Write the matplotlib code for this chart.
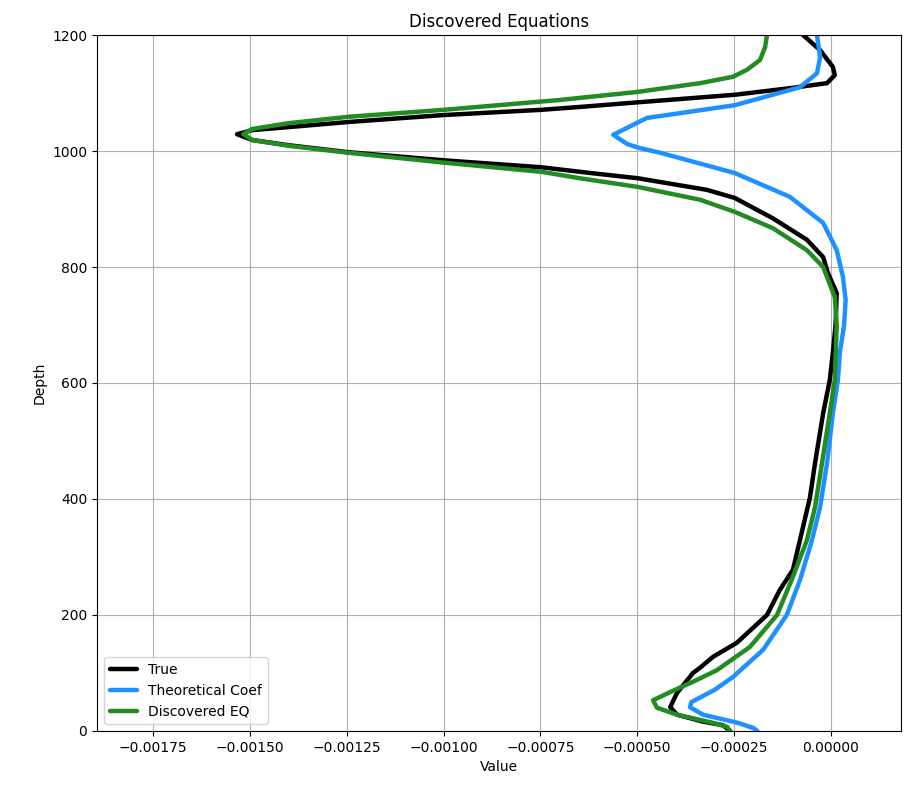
import matplotlib
matplotlib.use("Agg")
import matplotlib.pyplot as plt

# Depth profiles: depth (m) and coefficient value at that depth
true_depth = [0, 10, 16, 28, 41, 66, 100, 109, 128, 152, 200, 243, 278, 329, 403,
              462, 548, 605, 652, 700, 755, 790, 817, 847, 884, 919, 933, 953, 962,
              972, 984, 998, 1010, 1019, 1029, 1036, 1041, 1050, 1062, 1071, 1076,
              1084, 1097, 1109, 1117, 1131, 1145, 1174, 1200]
true_val = [-2.6e-4, -2.79e-4, -3.3e-4, -3.97e-4, -4.15e-4, -3.97e-4, -3.56e-4,
            -3.38e-4, -3.04e-4, -2.43e-4, -1.65e-4, -1.32e-4, -9.8e-5, -8.0e-5,
            -5.4e-5, -4.1e-5, -2.0e-5, -3e-6, 5e-6, 1.2e-5, 1.5e-5, -8e-6, -2.0e-5,
            -6.2e-5, -1.5e-4, -2.48e-4, -3.2e-4, -4.98e-4, -6.2e-4, -7.48e-4,
            -1.0e-3, -1.246e-3, -1.40e-3, -1.494e-3, -1.533e-3, -1.494e-3,
            -1.404e-3, -1.246e-3, -1.0e-3, -7.48e-4, -6.48e-4, -4.98e-4, -2.48e-4,
            -9.8e-5, -1.0e-5, 1.0e-5, 5e-6, -2.8e-5, -7.2e-5]

theo_depth = [0, 5, 14, 28, 41, 50, 71, 93, 140, 200, 260, 329, 386, 462, 548, 605,
              652, 700, 743, 783, 829, 876, 921, 962, 997, 1005, 1012, 1028, 1040,
              1057, 1079, 1110, 1134, 1162, 1200]
theo_val = [-1.9e-4, -2.0e-4, -2.4e-4, -3.3e-4, -3.64e-4, -3.6e-4, -3.0e-4,
            -2.53e-4, -1.75e-4, -1.14e-4, -8.0e-5, -4.9e-5, -2.8e-5, -1.0e-5, 5e-6,
            1.8e-5, 2.3e-5, 3.4e-5, 3.8e-5, 3.1e-5, 1.5e-5, -2.0e-5, -1.06e-4,
            -2.48e-4, -4.41e-4, -4.93e-4, -5.26e-4, -5.62e-4, -5.26e-4, -4.75e-4,
            -2.48e-4, -8.0e-5, -3.6e-5, -2.8e-5, -3.6e-5]

disc_depth = [0, 7, 14, 28, 40, 53, 67, 88, 105, 145, 200, 266, 329, 386, 462, 548,
              605, 700, 748, 800, 829, 867, 895, 916, 938, 953, 964, 980, 997, 1009,
              1019, 1029, 1038, 1048, 1059, 1071, 1088, 1102, 1117, 1128, 1140, 1157,
              1179, 1200]
disc_val = [-2.6e-4, -2.68e-4, -3.04e-4, -3.97e-4, -4.49e-4, -4.59e-4, -4.15e-4,
            -3.46e-4, -2.94e-4, -2.09e-4, -1.39e-4, -9.8e-5, -6.2e-5, -4.1e-5,
            -2.3e-5, -3e-6, 1e-5, 1.5e-5, 1.0e-5, -2.0e-5, -6.2e-5, -1.5e-4,
            -2.48e-4, -3.38e-4, -4.98e-4, -6.48e-4, -7.46e-4, -1.0e-3, -1.246e-3,
            -1.40e-3, -1.494e-3, -1.517e-3, -1.494e-3, -1.40e-3, -1.246e-3, -1.0e-3,
            -7.0e-4, -4.98e-4, -3.38e-4, -2.53e-4, -2.17e-4, -1.83e-4, -1.7e-4,
            -1.65e-4]

fig = plt.figure(figsize=(9.07, 7.87), dpi=100)
ax = fig.add_axes([0.107, 0.0712, 0.886, 0.8843])

line_kw = dict(lw=3.2, solid_joinstyle="round", solid_capstyle="round")
ax.plot(true_val, true_depth, color="black", label="True", **line_kw)
ax.plot(theo_val, theo_depth, color="#1E90FF", label="Theoretical Coef", **line_kw)
ax.plot(disc_val, disc_depth, color="#228B22", label="Discovered EQ", **line_kw)

ax.set_xlim(-0.0018945, 0.00018)
ax.set_ylim(0, 1200)
ax.set_xticks([-0.00175, -0.0015, -0.00125, -0.001, -0.00075, -0.0005, -0.00025, 0.0])
ax.set_yticks(range(0, 1201, 200))
ax.grid(True)
ax.set_title("Discovered Equations")
ax.set_xlabel("Value")
ax.set_ylabel("Depth")
ax.legend(loc="lower left")

fig.savefig("out.png", dpi=100)
